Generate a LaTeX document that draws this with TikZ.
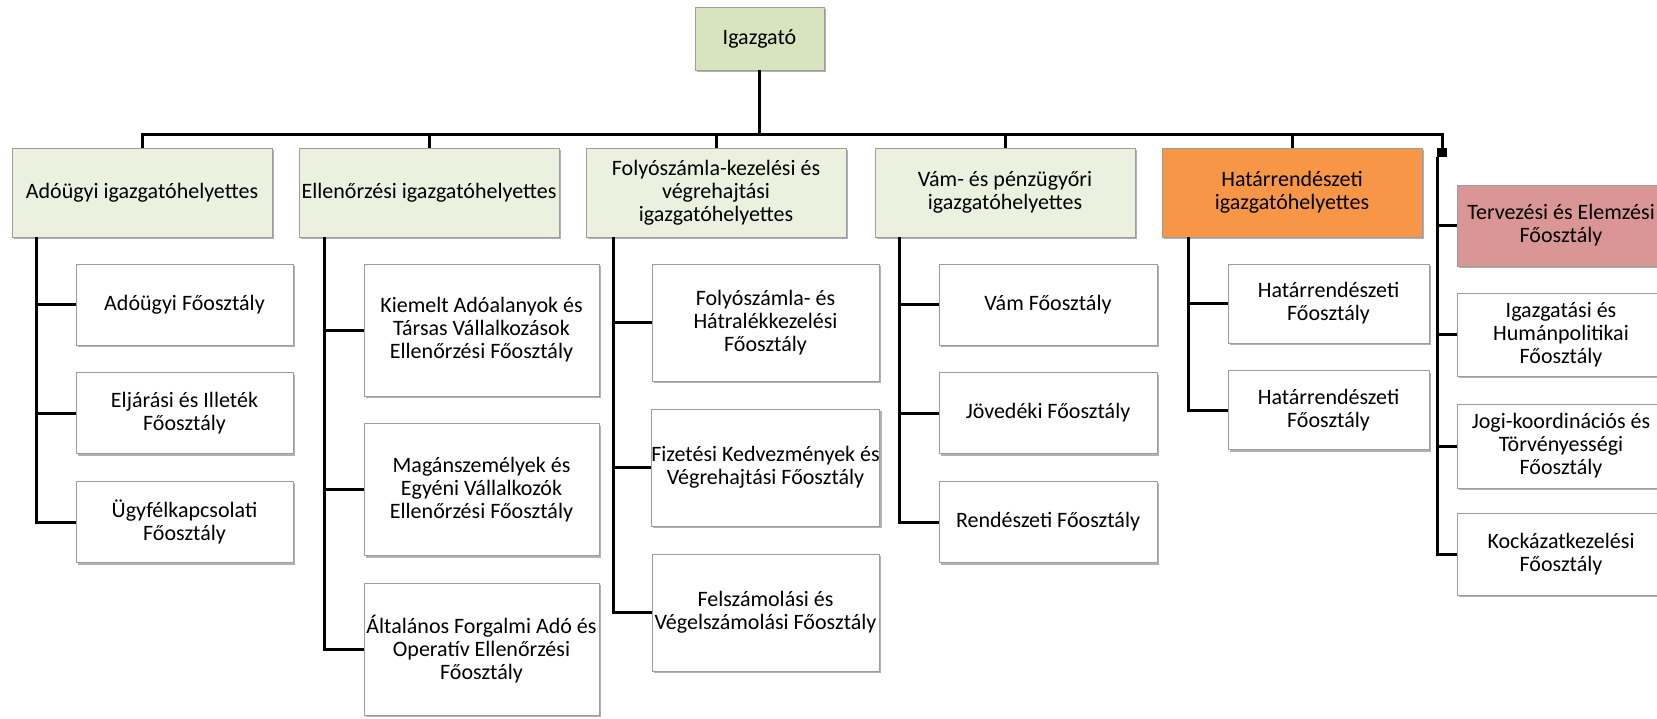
\documentclass[tikz,border=0pt]{standalone}
\usepackage{fontspec}
\setmainfont{Carlito}
\usetikzlibrary{shadows}

\definecolor{topgreen}{HTML}{D7E4BD}
\definecolor{palegreen}{HTML}{EBF1DE}
\definecolor{orangebox}{HTML}{F79646}
\definecolor{pinkbox}{HTML}{D99694}
\definecolor{boxline}{HTML}{9C9C9C}

\tikzset{
    unit/.style={draw=boxline, line width=0.5pt, fill=white, align=center, outer sep=0pt,
        inner xsep=0pt, font=\fontsize{11}{11.5}\selectfont,
        drop shadow={shadow xshift=1pt, shadow yshift=-1pt, fill=black, opacity=0.3}},
    deputy/.style={unit, fill=palegreen, minimum width=130pt, minimum height=44.5pt},
    conn/.style={line width=1.5pt, black}
}

\begin{document}
\begin{tikzpicture}[x=0.5pt, y=-0.5pt]
            \clip (0, 0) rectangle (1657, 718);

            \node (igazgato) at (759.5, 38.5) [unit, fill=topgreen, minimum width=64.5pt, minimum height=31.5pt] {Igazgató};

            \node (adougyi) at (142, 192.5) [deputy] {Adóügyi igazgatóhelyettes};
            \node (ellenorzesi) at (429, 192.5) [deputy] {Ellenőrzési igazgatóhelyettes};
            \node (folyoszamla) at (716, 192.5) [deputy] {Folyószámla-kezelési és\\végrehajtási\\igazgatóhelyettes};
            \node (vam) at (1005, 192.5) [deputy] {Vám- és pénzügyőri\\igazgatóhelyettes};
            \node (hatar) at (1292, 192.5) [deputy, fill=orangebox] {Határrendészeti\\igazgatóhelyettes};

            \node (ado1) at (184.5, 304.5) [unit, minimum width=108.5pt, minimum height=40.5pt] {Adóügyi Főosztály};
            \node (ado2) at (184.5, 413) [unit, minimum width=108.5pt, minimum height=40.5pt] {Eljárási és Illeték\\Főosztály};
            \node (ado3) at (184.5, 522) [unit, minimum width=108.5pt, minimum height=40.5pt] {Ügyfélkapcsolati\\Főosztály};

            \node (ell1) at (481.5, 330) [unit, minimum width=117.5pt, minimum height=66pt] {Kiemelt Adóalanyok és\\Társas Vállalkozások\\Ellenőrzési Főosztály};
            \node (ell2) at (481.5, 489.5) [unit, minimum width=117.5pt, minimum height=66pt] {Magánszemélyek és\\Egyéni Vállalkozók\\Ellenőrzési Főosztály};
            \node (ell3) at (481.5, 649) [unit, minimum width=117.5pt, minimum height=66pt] {Általános Forgalmi Adó és\\Operatív Ellenőrzési\\Főosztály};

            \node (foly1) at (765.5, 322.5) [unit, minimum width=113.5pt, minimum height=58.5pt] {Folyószámla- és\\Hátralékkezelési\\Főosztály};
            \node (foly2) at (765.5, 467.5) [unit, minimum width=113.5pt, minimum height=58.5pt] {Fizetési Kedvezmények és\\Végrehajtási Főosztály};
            \node (foly3) at (765.5, 612.5) [unit, minimum width=113.5pt, minimum height=58.5pt] {Felszámolási és\\Végelszámolási Főosztály};

            \node (vam1) at (1048, 304.5) [unit, minimum width=109pt, minimum height=40.5pt] {Vám Főosztály};
            \node (vam2) at (1048, 413) [unit, minimum width=109pt, minimum height=40.5pt] {Jövedéki Főosztály};
            \node (vam3) at (1048, 522) [unit, minimum width=109pt, minimum height=40.5pt] {Rendészeti Főosztály};

            \node (hatar1) at (1328.5, 303.5) [unit, minimum width=100.5pt, minimum height=39.5pt] {Határrendészeti\\Főosztály};
            \node (hatar2) at (1328.5, 410) [unit, minimum width=100.5pt, minimum height=39.5pt] {Határrendészeti\\Főosztály};

            \node (tervezesi) at (1561, 225.5) [unit, fill=pinkbox, minimum width=104pt, minimum height=40.5pt] {Tervezési és Elemzési\\Főosztály};
            \node (igazgatasi) at (1561, 334.5) [unit, minimum width=104pt, minimum height=41.5pt] {Igazgatási és\\Humánpolitikai\\Főosztály};
            \node (jogi) at (1561, 446) [unit, minimum width=104pt, minimum height=42pt] {Jogi-koordinációs és\\Törvényességi\\Főosztály};
            \node (kockazat) at (1561, 554) [unit, minimum width=104pt, minimum height=41pt] {Kockázatkezelési\\Főosztály};

            \coordinate (bus) at (759.5, 134);
            \node (handle) at (1442, 152.5) [fill=black, inner sep=0pt, minimum width=5pt, minimum height=4.5pt] {};

            \draw[conn] (igazgato.south) -- (bus);
            \foreach \n in {adougyi, ellenorzesi, folyoszamla, vam, hatar}
                \draw[conn] (bus) -| (\n.north);
            \draw[conn] (bus) -| (handle.north);

            \foreach \n in {ado1, ado2, ado3}
                \draw[conn] ([xshift=12pt]adougyi.south west) |- (\n.west);
            \foreach \n in {ell1, ell2, ell3}
                \draw[conn] ([xshift=12.5pt]ellenorzesi.south west) |- (\n.west);
            \foreach \n in {foly1, foly2, foly3}
                \draw[conn] ([xshift=13.5pt]folyoszamla.south west) |- (\n.west);
            \foreach \n in {vam1, vam2, vam3}
                \draw[conn] ([xshift=12pt]vam.south west) |- (\n.west);
            \foreach \n in {hatar1, hatar2}
                \draw[conn] ([xshift=13pt]hatar.south west) |- (\n.west);
            \foreach \n in {tervezesi, igazgatasi, jogi, kockazat}
                \draw[conn] ([xshift=-2.5pt]handle.south) |- (\n.west);
        \end{tikzpicture}
\end{document}
